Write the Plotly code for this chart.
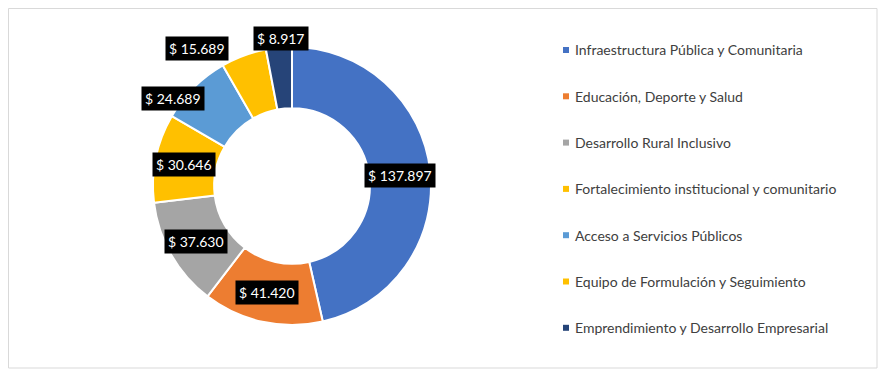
import plotly.graph_objects as go

# page body adds an 8px offset; figure is sized to fill the remaining window
OFF = 8
W, H = 888 - OFF, 377 - OFF

categories = [
    "Infraestructura Pública y Comunitaria",
    "Educación, Deporte y Salud",
    "Desarrollo Rural Inclusivo",
    "Fortalecimiento institucional y comunitario",
    "Acceso a Servicios Públicos",
    "Equipo de Formulación y Seguimiento",
    "Emprendimiento y Desarrollo Empresarial",
]
values = [137897, 41420, 37630, 30646, 24689, 15689, 8917]
colors = ["#4472C4", "#ED7D31", "#A5A5A5", "#FFC000", "#5B9BD5", "#FFC000", "#264478"]

# label box centers (window pixels) – layout only
label_pos = [(400, 175), (267, 292), (196, 241), (184, 164), (173, 98), (197, 48), (281, 38)]


def fmt(v):
    return "$ " + f"{v:,.0f}".replace(",", ".")


def px_x(x):
    return (x - OFF) / W


def px_y(y):
    return 1 - (y - OFF) / H


cx, cy, r = 292, 186, 139
fig = go.Figure()
fig.add_trace(go.Pie(
    labels=categories, values=values, sort=False, direction="clockwise", rotation=0,
    hole=0.56, marker=dict(colors=colors, line=dict(color="white", width=2)),
    textinfo="none", hoverinfo="label+value", showlegend=False,
    domain=dict(x=[px_x(cx - r), px_x(cx + r)], y=[px_y(cy + r), px_y(cy - r)]),
))

font_family = "Lato, 'Noto Sans', sans-serif"
annotations = []
for v, (px, py) in zip(values, label_pos):
    annotations.append(dict(
        x=px_x(px), y=px_y(py), xref="paper", yref="paper", text=fmt(v), showarrow=False,
        xanchor="center", yanchor="middle", bgcolor="black", borderpad=3,
        font=dict(color="white", size=14, family=font_family),
    ))

shapes = [dict(type="rect", xref="paper", yref="paper", x0=px_x(8.5), x1=px_x(877), y0=px_y(368), y1=px_y(8.5),
               line=dict(color="#D9D9D9", width=1), fillcolor="rgba(0,0,0,0)")]

leg_y0, leg_dy = 50, 46.3
for i, (cat, col) in enumerate(zip(categories, colors)):
    py = leg_y0 + i * leg_dy
    shapes.append(dict(type="rect", xref="paper", yref="paper",
                       x0=px_x(563), x1=px_x(569), y0=px_y(py + 3), y1=px_y(py - 3),
                       line=dict(width=0), fillcolor=col))
    annotations.append(dict(
        x=px_x(573), y=px_y(py), xref="paper", yref="paper", text=cat, showarrow=False,
        xanchor="left", yanchor="middle", font=dict(color="#404040", size=14, family=font_family),
    ))

fig.update_layout(
    width=W, height=H, margin=dict(l=0, r=0, t=0, b=0),
    paper_bgcolor="white", plot_bgcolor="white",
    annotations=annotations, shapes=shapes,
)
fig.write_html("out.html")
